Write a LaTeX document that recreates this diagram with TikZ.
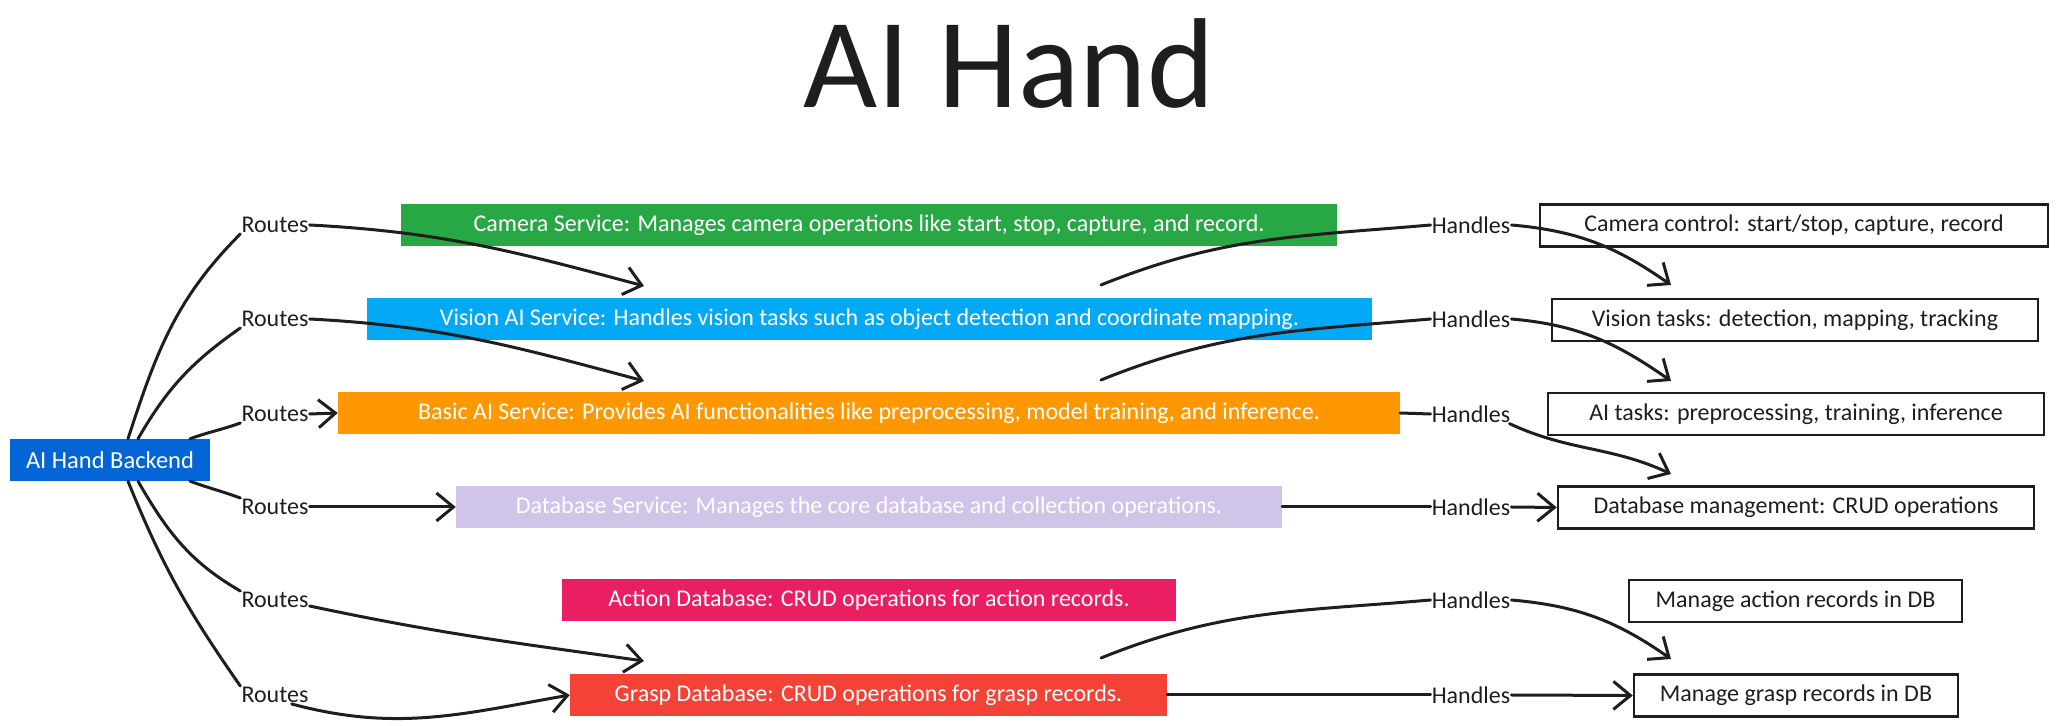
\documentclass[tikz,border=0pt]{standalone}
\usepackage{fontspec}
\setmainfont{Carlito}
\usetikzlibrary{arrows.meta}

\definecolor{camgreen}{RGB}{40,167,69}
\definecolor{visblue}{RGB}{3,169,244}
\definecolor{basicorange}{RGB}{255,152,0}
\definecolor{dblilac}{RGB}{209,196,233}
\definecolor{actpink}{RGB}{233,30,99}
\definecolor{graspred}{RGB}{244,67,54}
\definecolor{backblue}{RGB}{4,102,214}
\definecolor{ink}{RGB}{30,30,30}

\tikzset{
  svc/.style={fill=#1, text=white, minimum height=42bp, inner sep=0pt,
    font=\fontsize{24bp}{28bp}\selectfont},
  task/.style={draw=ink, line width=2.5bp, fill=white, text=ink, minimum height=42bp,
    inner sep=0pt, font=\fontsize{24bp}{28bp}\selectfont},
  lbl/.style={text=ink, inner sep=1bp, font=\fontsize{24bp}{28bp}\selectfont},
  link/.style={draw=ink, line width=3bp, line cap=round},
  arr/.style={link, -{Straight Barb[length=17bp, width=28bp]}},
}

\begin{document}
\begin{tikzpicture}[x=1bp, y=1bp]
  \useasboundingbox (0,0) rectangle (2060,726);

  % title
  \node[text=ink, font=\fontsize{128bp}{140bp}\selectfont] (title) at (1009,662) {AI Hand};

  % backend
  \node[svc=backblue, minimum width=200bp, font=\fontsize{24.5bp}{28bp}\selectfont] (backend) at (110,266) {AI Hand Backend};

  % services, middle column
  \node[svc=camgreen,    minimum width=936bp]  (camera)   at (869,500.5) {Camera Service: Manages camera operations like start, stop, capture, and record.};
  \node[svc=visblue,     minimum width=1005bp] (vision)   at (869.5,407) {Vision AI Service: Handles vision tasks such as object detection and coordinate mapping.};
  \node[svc=basicorange, minimum width=1062bp] (basic)    at (869,313)   {Basic AI Service: Provides AI functionalities like preprocessing, model training, and inference.};
  \node[svc=dblilac,     minimum width=826bp]  (dbsvc)    at (869,219)   {Database Service: Manages the core database and collection operations.};
  \node[svc=actpink,     minimum width=614bp]  (actiondb) at (869,126)   {Action Database: CRUD operations for action records.};
  \node[svc=graspred,    minimum width=597bp]  (graspdb)  at (868.5,31)  {Grasp Database: CRUD operations for grasp records.};

  % tasks, right column
  \node[task, minimum width=508bp] (camctl)   at (1794,500.5) {Camera control: start/stop, capture, record};
  \node[task, minimum width=486bp] (vistask)  at (1795,406)   {Vision tasks: detection, mapping, tracking};
  \node[task, minimum width=496bp] (aitask)   at (1796,312)   {AI tasks: preprocessing, training, inference};
  \node[task, minimum width=476bp] (dbmgmt)   at (1796,218.5) {Database management: CRUD operations};
  \node[task, minimum width=333bp] (actrec)   at (1795.5,125) {Manage action records in DB};
  \node[task, minimum width=324bp] (grasprec) at (1796,30.5)  {Manage grasp records in DB};

  % edge labels
  \node[lbl] (routesA) at (275,501) {Routes};
  \node[lbl] (routesB) at (275,407) {Routes};
  \node[lbl] (routesC) at (275,312) {Routes};
  \node[lbl] (routesD) at (275,219) {Routes};
  \node[lbl] (routesE) at (275,126) {Routes};
  \node[lbl] (routesF) at (275,31)  {Routes};
  \node[lbl] (handlesA) at (1471,501) {Handles};
  \node[lbl] (handlesB) at (1471,407) {Handles};
  \node[lbl] (handlesC) at (1471,312) {Handles};
  \node[lbl] (handlesD) at (1471,219) {Handles};
  \node[lbl] (handlesE) at (1471,126) {Handles};
  \node[lbl] (handlesF) at (1471,31)  {Handles};

  % free ends of arrows
  \coordinate (routeendA) at (644,440);
  \coordinate (routeendB) at (644,345);
  \coordinate (routeendE) at (644,65);
  \coordinate (handstartA) at (1101,441);
  \coordinate (handstartB) at (1101,346);
  \coordinate (handstartE) at (1101,68);
  \coordinate (handendA) at (1671,441);
  \coordinate (handendB) at (1671,345);
  \coordinate (handendC) at (1671,252);
  \coordinate (handendE) at (1671,67);

  % backend -> Routes
  \draw[link] ([xshift=18bp]backend.north) to[out=72, in=-135] (routesA.south west);
  \draw[link] ([xshift=28bp]backend.north) to[out=60, in=-145] (routesB.south west);
  \draw[link] ([xshift=80bp]backend.north) to[out=20, in=-160] (routesC.south west);
  \draw[link] ([xshift=80bp]backend.south) to[out=-20, in=160] (routesD.north west);
  \draw[link] ([xshift=28bp]backend.south) to[out=-60, in=150] (routesE.north west);
  \draw[link] ([xshift=18bp]backend.south) to[out=-68, in=125] (routesF.north west);

  % Routes -> services
  \draw[arr] (routesA.east) to[out=-3, in=165] (routeendA);
  \draw[arr] (routesB.east) to[out=-3, in=165] (routeendB);
  \draw[arr] (routesC.east) -- (basic.west);
  \draw[arr] (routesD.east) -- (dbsvc.west);
  \draw[arr] ([yshift=-6bp]routesE.east) to[out=-12, in=172] (routeendE);
  \draw[arr] ([xshift=-18bp]routesF.south east) to[out=-15, in=190] (graspdb.west);

  % services -> Handles
  \draw[link] (handstartA) to[out=22, in=185] (handlesA.west);
  \draw[link] (handstartB) to[out=22, in=185] (handlesB.west);
  \draw[link] (basic.east) -- (handlesC.west);
  \draw[link] (dbsvc.east) -- (handlesD.west);
  \draw[link] (handstartE) to[out=22, in=185] (handlesE.west);
  \draw[link] (graspdb.east) -- (handlesF.west);

  % Handles -> tasks
  \draw[arr] (handlesA.east) to[out=-5, in=145] (handendA);
  \draw[arr] (handlesB.east) to[out=-5, in=145] (handendB);
  \draw[arr] ([xshift=-2bp]handlesC.south east) to[out=-25, in=155] (handendC);
  \draw[arr] (handlesD.east) -- (dbmgmt.west);
  \draw[arr] (handlesE.east) to[out=-5, in=145] (handendE);
  \draw[arr] (handlesF.east) -- (grasprec.west);
\end{tikzpicture}
\end{document}
